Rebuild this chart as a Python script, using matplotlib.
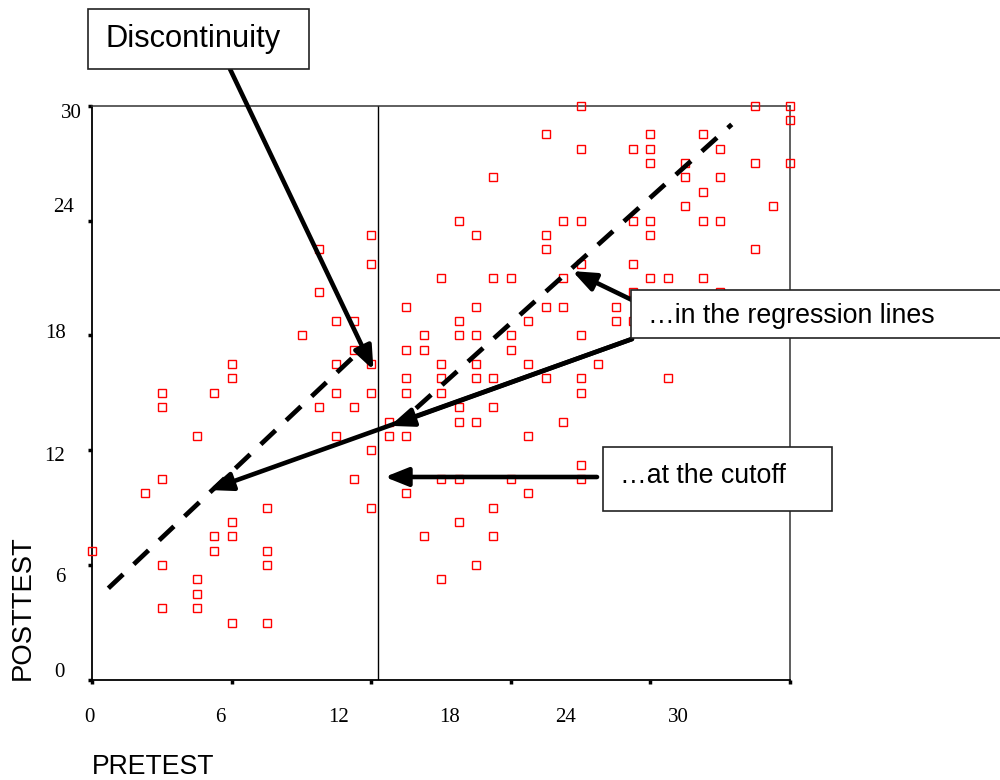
import numpy as np
import matplotlib.pyplot as plt
from matplotlib.patches import Rectangle

# scores, grouped by pretest value
pretest = ([0] + [3] + [4] * 5 + [6] * 4 + [7] * 3 + [8] * 5 + [10] * 4 + [12] + [13] * 3
           + [14] * 4 + [15] * 4 + [16] * 6 + [17] * 2 + [18] * 6 + [19] * 3 + [20] * 6
           + [21] * 7 + [22] * 7 + [23] * 6 + [24] * 4 + [25] * 4 + [26] * 5 + [27] * 4
           + [28] * 9 + [29] + [30] * 2 + [31] * 5 + [32] * 6 + [33] * 2 + [34] * 3
           + [35] * 4 + [36] * 4 + [38] * 3 + [39] + [40] * 3)
posttest = [9,
            13,
            20, 19, 14, 8, 5,
            17, 7, 6, 5,
            20, 10, 9,
            22, 21, 11, 10, 4,
            12, 9, 8, 4,
            24,
            30, 27, 19,
            25, 22, 20, 17,
            25, 23, 19, 14,
            31, 29, 22, 20, 16, 12,
            18, 17,
            26, 23, 21, 20, 17, 13,
            24, 23, 10,
            28, 22, 21, 20, 14, 7,
            32, 25, 24, 19, 18, 14, 11,
            31, 26, 24, 22, 21, 18, 8,
            35, 28, 21, 19, 12, 10,
            28, 24, 23, 14,
            25, 22, 17, 13,
            38, 31, 30, 26, 21,
            32, 28, 26, 18,
            40, 37, 32, 29, 24, 21, 20, 15, 14,
            22,
            26, 25,
            37, 32, 29, 27, 25,
            38, 37, 36, 32, 31, 28,
            28, 21,
            36, 35, 33,
            38, 34, 32, 28,
            37, 35, 32, 27,
            40, 36, 30,
            33,
            40, 39, 36]

cutoff = 16.38
# regression lines: intercept, slope, first x, last x
reg_left = [5.335, 1.147, 0.92, 14.97]
reg_right = [-1.358, 1.0926, 18.56, 36.66]

tick_text = ['0', '6', '12', '18', '24', '30']
# where the labels sit (they do not line up with the tick marks)
xlab_x = [-0.19, 7.32, 14.09, 20.51, 27.16, 33.59]
ylab_x = [-1.57, -1.51, -1.57, -1.51, -1.03, -0.59]
ylab_y = [0.21, 6.82, 15.25, 23.82, 32.59, 39.14]

W, H = 1000, 780


def fig_xy(px, py):
    # pixel position measured from the top-left corner -> figure fraction
    return px / W, 1 - py / H


fig = plt.figure(figsize=(10, 7.8), dpi=100)
ax = fig.add_axes([92.3 / W, 1 - 680 / H, 697.7 / W, 574.3 / H])
ax.set_xlim(0, 40)
ax.set_ylim(0, 40)

ax.plot(pretest, posttest, 's', mfc='none', mec='#ff0000', ms=5.3, mew=1.0,
        clip_on=False, zorder=3)

ax.axvline(cutoff, color='black', lw=1.0, zorder=2)

for b0, b1, xa, xb in (reg_left, reg_right):
    xs = np.array([xa, xb])
    ax.plot(xs, b0 + b1 * xs, color='black', lw=3.4, ls=(0, (4.3, 3.1)),
            dash_capstyle='butt', zorder=4)

ax.set_xticks(range(0, 41, 8))
ax.set_yticks(range(0, 41, 8))
ax.set_xticklabels([])
ax.set_yticklabels([])
ax.tick_params(direction='out', length=3, width=2.5, color='black')
for side in ('left', 'bottom'):
    ax.spines[side].set_linewidth(1.3)
    ax.spines[side].set_color('black')
for side in ('top', 'right'):
    ax.spines[side].set_linewidth(1.1)
    ax.spines[side].set_color('#333333')

serif = 'Liberation Serif'
for t, x in zip(tick_text, xlab_x):
    ax.text(x, -2.92, t, ha='center', va='baseline', fontsize=15,
            family=serif, clip_on=False)
for t, x, y in zip(tick_text, ylab_x, ylab_y):
    ax.text(x, y, t, ha='right', va='baseline', fontsize=15,
            family=serif, clip_on=False)

sans = 'Liberation Sans'
fig.text(*fig_xy(23, 608), 'POSTTEST', rotation=90, ha='center', va='center',
         fontsize=19.8, family=sans)
fig.text(*fig_xy(92, 767), 'PRETEST', ha='left', va='center',
         fontsize=19.2, family=sans)

# callout boxes: left, top, right, bottom (pixels), text baseline, font size
boxes = [
    ('Discontinuity', (88, 9, 309, 69), 46.7, 22.2),
    ('\u2026in the regression lines', (631, 290, 1005, 338), 323.3, 19.3),
    ('\u2026at the cutoff', (603, 447, 832, 511), 483, 19.3),
]
for label, (l, t, r, b), base, size in boxes:
    x0, y0 = fig_xy(l, b)
    fig.patches.append(Rectangle((x0, y0), (r - l) / W, (b - t) / H,
                                 transform=fig.transFigure, facecolor='white',
                                 edgecolor='#222222', lw=1.2, zorder=5))
    fig.text(*fig_xy(l + 17, base), label, ha='left', va='baseline',
             fontsize=size, family=sans, zorder=6)

# arrows: start in pixels (on a box), tip in data coordinates
arrows = [
    ((230, 69), (16.12, 21.59)),
    ((632, 300), (27.52, 28.48)),
    ((632, 339), (17.07, 17.7)),
    ((632, 339), (6.69, 13.23)),
    ((597, 477), (16.77, 14.14)),
]
for start, tip in arrows:
    ax.annotate('', xy=tip, xycoords='data', xytext=fig_xy(*start),
                textcoords='figure fraction', annotation_clip=False,
                arrowprops=dict(arrowstyle='-|>,head_length=0.7,head_width=0.28',
                                mutation_scale=20, lw=3.3, color='black',
                                shrinkA=0, shrinkB=0))

fig.savefig('out.png', dpi=100)
